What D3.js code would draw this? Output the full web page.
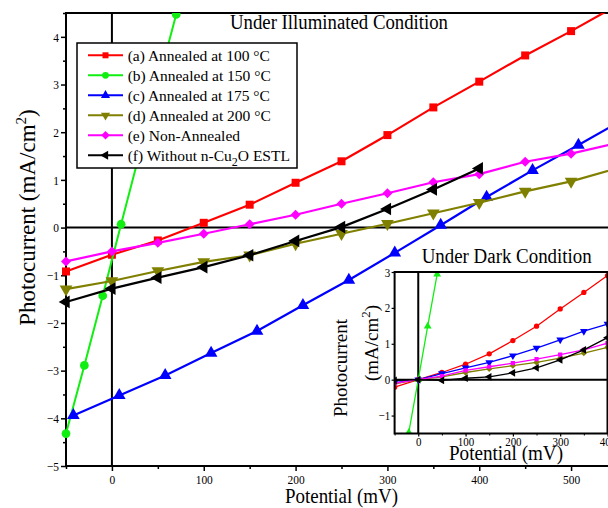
<!DOCTYPE html>
<html>
<head>
<meta charset="utf-8">
<script src="https://cdn.jsdelivr.net/npm/d3@7"></script>
<style>
  body { margin: 0; background: #fff; }
  text { font-family: "Liberation Serif", "Times New Roman", serif; fill: #000; }
</style>
</head>
<body>
<svg id="chart" width="608" height="508"></svg>
<script>
// ---- Illuminated sweeps: potential (mV) and photocurrent (mA/cm²) ----
const seriesNames = [
  "(a) Annealed at 100 °C",
  "(b) Annealed at 150 °C",
  "(c) Annealed at 175 °C",
  "(d) Annealed at 200 °C",
  "(e) Non-Annealed",
  "(f) Without n-Cu2O ESTL"
];

const lightV_a = [-50, 0, 50, 100, 150, 200, 250, 300, 350, 400, 450, 500, 550];
const lightJ_a = [-0.92, -0.57, -0.27, 0.10, 0.48, 0.94, 1.39, 1.94, 2.52, 3.06, 3.61, 4.12, 4.66];
const lightV_b = [-50, -30, -10, 10, 30, 50, 70];
const lightJ_b = [-4.32, -2.89, -1.43, 0.07, 1.55, 3.02, 4.47];
const lightV_c = [-42, 8, 58, 108, 158, 208, 258, 308, 358, 408, 458, 508, 558];
const lightJ_c = [-3.94, -3.52, -3.10, -2.63, -2.17, -1.63, -1.10, -0.53, 0.05, 0.64, 1.20, 1.73, 2.28];
const lightV_d = [-50, 0, 50, 100, 150, 200, 250, 300, 350, 400, 450, 500, 550];
const lightJ_d = [-1.29, -1.12, -0.91, -0.72, -0.58, -0.34, -0.13, 0.08, 0.30, 0.52, 0.76, 0.97, 1.24];
const lightV_e = [-50, 0, 50, 100, 150, 200, 250, 300, 350, 400, 450, 500, 550];
const lightJ_e = [-0.71, -0.50, -0.32, -0.13, 0.07, 0.27, 0.50, 0.72, 0.95, 1.12, 1.38, 1.55, 1.77];
const lightV_f = [-50, 0, 50, 100, 150, 200, 250, 300, 350, 400];
const lightJ_f = [-1.56, -1.28, -1.05, -0.83, -0.58, -0.28, 0.01, 0.39, 0.80, 1.24];

// ---- Dark sweeps ----
const darkV = [-50, 0, 50, 100, 150, 200, 250, 300, 350, 400];
const darkJ_a = [-0.21, 0, 0.20, 0.43, 0.72, 1.09, 1.49, 1.97, 2.43, 2.90];
const darkV_b = [-20, 0, 20, 40];
const darkJ_b = [-1.47, 0, 1.49, 2.94];
const darkJ_c = [-0.08, 0, 0.17, 0.33, 0.48, 0.67, 0.88, 1.11, 1.35, 1.55];
const darkJ_d = [-0.12, 0, 0.08, 0.20, 0.30, 0.39, 0.48, 0.60, 0.74, 0.90];
const darkJ_e = [-0.10, 0, 0.10, 0.26, 0.36, 0.46, 0.57, 0.70, 0.83, 1.02];
const darkJ_f = [-0.02, 0, -0.02, 0.04, 0.08, 0.19, 0.33, 0.55, 0.83, 1.17];

// ---- Axis ticks ----
const mainXTicks = [0, 100, 200, 300, 400, 500];
const mainXMinor = [-50, 50, 150, 250, 350, 450, 550];
const mainYTicks = [-5, -4, -3, -2, -1, 0, 1, 2, 3, 4];
const mainYMinor = [-4.5, -3.5, -2.5, -1.5, -0.5, 0.5, 1.5, 2.5, 3.5, 4.5];
const insetXTicks = [0, 100, 200, 300, 400];
const insetXMinor = [-50, 50, 150, 250, 350];
const insetYTicks = [-1, 0, 1, 2, 3];

// ---- Styling ----
const colors = ["#ff0000", "#11ee11", "#0000ff", "#808000", "#ff00ff", "#000000"];
const mainShapes = ["square", "circle", "up", "down", "diamond", "left"];
const insetShapes = ["circle", "up", "down", "diamond", "square", "left"];
const legendShapes = ["square", "circle", "up", "down", "diamond", "left"];

const zip = (xs, ys) => xs.map((x, i) => ({ x, y: ys[i] }));
const lightSeries = [
  zip(lightV_a, lightJ_a), zip(lightV_b, lightJ_b), zip(lightV_c, lightJ_c),
  zip(lightV_d, lightJ_d), zip(lightV_e, lightJ_e), zip(lightV_f, lightJ_f)
];
const darkSeries = [
  zip(darkV, darkJ_a), zip(darkV_b, darkJ_b), zip(darkV, darkJ_c),
  zip(darkV, darkJ_d), zip(darkV, darkJ_e), zip(darkV, darkJ_f)
];

const svg = d3.select("#chart");
const squeeze = "scale(0.88,1)";

// marker path + rotation for each shape name
function marker(shape, size) {
  const types = {
    square: [d3.symbolSquare, 0], circle: [d3.symbolCircle, 0],
    up: [d3.symbolTriangle, 0], down: [d3.symbolTriangle, 180],
    left: [d3.symbolTriangle, -90], diamond: [d3.symbolSquare, 45]
  };
  const [t, rot] = types[shape];
  return { d: d3.symbol().type(t).size(size)(), rot };
}

function drawSeries(g, x, y, data, color, shape, lw, msize) {
  g.append("path")
    .datum(data)
    .attr("fill", "none")
    .attr("stroke", color)
    .attr("stroke-width", lw)
    .attr("stroke-linejoin", "round")
    .attr("d", d3.line().x(d => x(d.x)).y(d => y(d.y)));
  const m = marker(shape, msize);
  g.selectAll(null).data(data).join("path")
    .attr("d", m.d)
    .attr("fill", color)
    .attr("transform", d => `translate(${x(d.x)},${y(d.y)}) rotate(${m.rot})`);
}

// ================= Main plot =================
const x = d3.scaleLinear().domain([-50, 550]).range([66, 617]);
const y = d3.scaleLinear().domain([-5, 4.5]).range([466, 13]);

svg.append("defs").append("clipPath").attr("id", "mainClip")
  .append("rect").attr("x", 0).attr("y", 13).attr("width", 640).attr("height", 460);

// origin lines
svg.append("line").attr("x1", x(-50)).attr("x2", x(550)).attr("y1", y(0)).attr("y2", y(0))
  .attr("stroke", "#000").attr("stroke-width", 2);
svg.append("line").attr("x1", x(0)).attr("x2", x(0)).attr("y1", y(4.5)).attr("y2", y(-5))
  .attr("stroke", "#000").attr("stroke-width", 2);

// axes
const xAxis = svg.append("g").attr("transform", `translate(0,${y(-5)})`)
  .call(d3.axisBottom(x).tickValues(mainXTicks).tickSize(5).tickPadding(4).tickFormat(d3.format("d")));
svg.append("g").attr("transform", `translate(0,${y(-5)})`)
  .call(d3.axisBottom(x).tickValues(mainXMinor).tickSize(3).tickFormat(""));
const yAxis = svg.append("g").attr("transform", `translate(${x(-50)},0)`)
  .call(d3.axisLeft(y).tickValues(mainYTicks).tickSize(5).tickPadding(3).tickFormat(d3.format("d")));
svg.append("g").attr("transform", `translate(${x(-50)},0)`)
  .call(d3.axisLeft(y).tickValues(mainYMinor).tickSize(3).tickFormat(""));
svg.selectAll(".domain").remove();
svg.selectAll(".tick line").attr("stroke", "#000").attr("stroke-width", 1.5);
[xAxis, yAxis].forEach(a => a.selectAll("text")
  .style("font-family", "'Liberation Serif', serif").style("font-size", "13px")
  .attr("fill", "#000").attr("transform", squeeze));

// frame
svg.append("rect").attr("x", x(-50)).attr("y", y(4.5))
  .attr("width", x(550) - x(-50)).attr("height", y(-5) - y(4.5))
  .attr("fill", "none").attr("stroke", "#000").attr("stroke-width", 2);

const mainG = svg.append("g").attr("clip-path", "url(#mainClip)");
const mainLW = [2.2, 2, 2.2, 2.2, 2.2, 2.2];
const mainMS = [64, 60, 70, 70, 50, 70];
lightSeries.forEach((s, i) => drawSeries(mainG, x, y, s, colors[i], mainShapes[i], mainLW[i], mainMS[i]));

// titles and axis labels
svg.append("text").attr("x", 339).attr("y", 29).attr("text-anchor", "middle")
  .style("font-size", "20px").attr("textLength", 218).attr("lengthAdjust", "spacingAndGlyphs")
  .text("Under Illuminated Condition");
svg.append("text").attr("x", 341.5).attr("y", 503).attr("text-anchor", "middle")
  .style("font-size", "21px").attr("textLength", 113).attr("lengthAdjust", "spacingAndGlyphs")
  .text("Potential (mV)");
const yl = svg.append("text").attr("transform", "translate(35,217.5) rotate(-90)")
  .attr("text-anchor", "middle").style("font-size", "23px");
yl.append("tspan").text("Photocurrent (mA/cm");
yl.append("tspan").attr("dy", -9).style("font-size", "15px").text("2");
yl.append("tspan").attr("dy", 9).text(")");

// legend
const legend = svg.append("g");
legend.append("rect").attr("x", 77).attr("y", 43).attr("width", 220).attr("height", 125)
  .attr("fill", "#fff").attr("stroke", "#000").attr("stroke-width", 1.5);
seriesNames.forEach((name, i) => {
  const cy = 55.3 + i * 20;
  legend.append("line").attr("x1", 88).attr("x2", 123).attr("y1", cy).attr("y2", cy)
    .attr("stroke", colors[i]).attr("stroke-width", 2);
  const m = marker(legendShapes[i], 36);
  legend.append("path").attr("d", m.d).attr("fill", colors[i])
    .attr("transform", `translate(105.5,${cy}) rotate(${m.rot})`);
  const t = legend.append("text").attr("x", 127.7).attr("y", cy).attr("dy", "0.35em")
    .style("font-size", "15.5px");
  if (name.includes("Cu2O")) {
    const [pre, post] = name.split("Cu2O");
    t.append("tspan").text(pre + "Cu");
    t.append("tspan").attr("dy", 5).style("font-size", "12px").text("2");
    t.append("tspan").attr("dy", -5).text("O" + post);
  } else {
    t.text(name);
  }
});

// ================= Inset: dark condition =================
const ix = d3.scaleLinear().domain([-50, 400]).range([394.6, 607.5]);
const iy = d3.scaleLinear().domain([-1.5, 3]).range([433.5, 272]);

svg.select("defs").append("clipPath").attr("id", "insetClip")
  .append("rect").attr("x", ix(-50)).attr("y", iy(3)).attr("width", ix(400) - ix(-50))
  .attr("height", iy(-1.5) - iy(3));

svg.append("rect").attr("x", ix(-50)).attr("y", iy(3))
  .attr("width", ix(400) - ix(-50)).attr("height", iy(-1.5) - iy(3)).attr("fill", "#fff");

svg.append("line").attr("x1", ix(-50)).attr("x2", ix(400)).attr("y1", iy(0)).attr("y2", iy(0))
  .attr("stroke", "#000").attr("stroke-width", 2);
svg.append("line").attr("x1", ix(0)).attr("x2", ix(0)).attr("y1", iy(3)).attr("y2", iy(-1.5))
  .attr("stroke", "#000").attr("stroke-width", 2);

const ixAxis = svg.append("g").attr("transform", `translate(0,${iy(-1.5)})`)
  .call(d3.axisBottom(ix).tickValues(insetXTicks).tickSize(3).tickPadding(1).tickFormat(d3.format("d")));
const iyAxis = svg.append("g").attr("transform", `translate(${ix(-50)},0)`)
  .call(d3.axisLeft(iy).tickValues(insetYTicks).tickSize(3).tickPadding(2).tickFormat(d3.format("d")));
svg.append("g").attr("transform", `translate(0,${iy(-1.5)})`)
  .call(d3.axisBottom(ix).tickValues(insetXMinor).tickSize(2).tickFormat(""));
svg.selectAll(".domain").remove();
[ixAxis, iyAxis].forEach(a => {
  a.selectAll("line").attr("stroke", "#000").attr("stroke-width", 1.2);
  a.selectAll("text").style("font-family", "'Liberation Serif', serif").style("font-size", "12.5px")
    .attr("fill", "#000").attr("transform", squeeze);
});

const insetG = svg.append("g").attr("clip-path", "url(#insetClip)");
const insetMS = [22, 26, 26, 20, 18, 26];
darkSeries.forEach((s, i) => drawSeries(insetG, ix, iy, s, colors[i], insetShapes[i], 1.3, insetMS[i]));

svg.append("rect").attr("x", ix(-50)).attr("y", iy(3))
  .attr("width", ix(400) - ix(-50)).attr("height", iy(-1.5) - iy(3))
  .attr("fill", "none").attr("stroke", "#000").attr("stroke-width", 2);

svg.append("text").attr("x", 506.7).attr("y", 263.3).attr("text-anchor", "middle")
  .style("font-size", "20px").attr("textLength", 170).attr("lengthAdjust", "spacingAndGlyphs")
  .text("Under Dark Condition");
svg.append("text").attr("x", 506).attr("y", 460).attr("text-anchor", "middle")
  .style("font-size", "21px").attr("textLength", 114).attr("lengthAdjust", "spacingAndGlyphs")
  .text("Potential (mV)");
svg.append("text").attr("transform", "translate(347,368) rotate(-90)")
  .attr("text-anchor", "middle").style("font-size", "19px").text("Photocurrent");
const iyl = svg.append("text").attr("transform", "translate(378,343) rotate(-90)")
  .attr("text-anchor", "middle").style("font-size", "19px");
iyl.append("tspan").text("(mA/cm");
iyl.append("tspan").attr("dy", -8).style("font-size", "13px").text("2");
iyl.append("tspan").attr("dy", 8).text(")");
</script>
</body>
</html>
